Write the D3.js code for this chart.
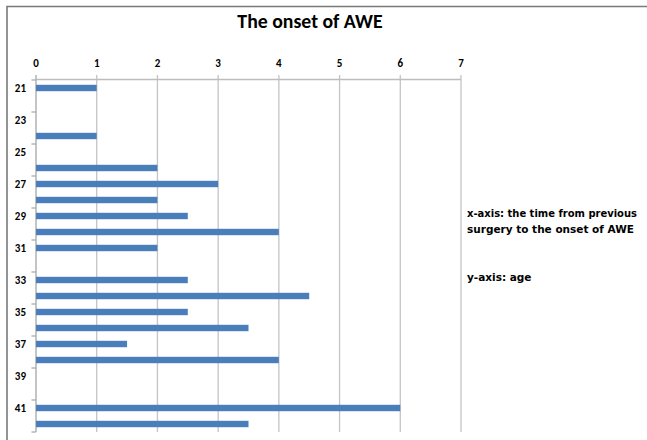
<!DOCTYPE html>
<html>
<head>
  <meta charset="UTF-8">
  <style>
    body { margin: 0; background: #fff; }
    svg { display: block; }
  </style>
</head>
<body>
<div id="chart_div"></div>

<script src="https://d3js.org/d3.v7.min.js"></script>
<script>

let width = 647, height = 440;

// ages on the y axis (top to bottom) and the time values
const ages = [21, 22, 23, 24, 25, 26, 27, 28, 29, 30, 31, 32, 33, 34, 35, 36, 37, 38, 39, 40, 41, 42];
const times = [1, null, null, 1, null, 2, 3, 2, 2.5, 4, 2, null, 2.5, 4.5, 2.5, 3.5, 1.5, 4, null, null, 6, 3.5];
const ageLabels = [21, 23, 25, 27, 29, 31, 33, 35, 37, 39, 41];
const xTicks = [0, 1, 2, 3, 4, 5, 6, 7];
const notes = ["x-axis: the time from previous", "surgery to the onset of AWE", "", "", "y-axis: age"];

let svg = d3.select("#chart_div")
  .append("svg")
  .attr("width", width)
  .attr("height", height);

// frame of the chart area
svg.append("path")
  .attr("d", "M7,440 V6.5 H647")
  .attr("fill", "none")
  .attr("stroke", "#7a7a7a")
  .attr("stroke-width", 1.6);

svg.append("text")
  .attr("x", 310)
  .attr("y", 28)
  .attr("text-anchor", "middle")
  .style("font-family", "Carlito, Lato, sans-serif")
  .style("font-weight", "bold")
  .style("font-size", "19.8px")
  .text("The onset of AWE");

var x = d3.scaleLinear().domain([0, 7]).range([36, 461]);
var y = d3.scaleBand().domain(ages).range([80, 432]).padding(0);

// vertical gridlines (with small outward tick above the axis)
svg.append("g")
  .selectAll("line")
  .data(xTicks)
  .enter()
  .append("line")
    .attr("x1", d => x(d))
    .attr("x2", d => x(d))
    .attr("y1", 75)
    .attr("y2", 432)
    .attr("stroke", d => d === 0 ? "#a6a6a6" : "#c4c4c4")
    .attr("stroke-width", 1.3);

// top axis line
svg.append("line")
  .attr("x1", x(0)).attr("x2", x(7))
  .attr("y1", 79.5).attr("y2", 79.5)
  .attr("stroke", "#bdbdbd")
  .attr("stroke-width", 1.5);

svg.append("g")
  .selectAll("text")
  .data(xTicks)
  .enter()
  .append("text")
    .attr("x", d => x(d))
    .attr("y", 67)
    .attr("text-anchor", "middle")
    .style("font-family", "Carlito, Lato, sans-serif")
    .style("font-weight", "bold")
    .style("font-size", "11px")
    .text(d => d);

// y tick marks every 2 categories on band boundaries
svg.append("g")
  .selectAll("line")
  .data(ages.filter((d, i) => i % 2 === 0).concat(["end"]))
  .enter()
  .append("line")
    .attr("x1", 31.5)
    .attr("x2", x(0))
    .attr("y1", d => d === "end" ? y.range()[1] : y(d))
    .attr("y2", d => d === "end" ? y.range()[1] : y(d))
    .attr("stroke", "#a6a6a6")
    .attr("stroke-width", 1.2);

svg.append("g")
  .selectAll("text")
  .data(ageLabels)
  .enter()
  .append("text")
    .attr("x", 26)
    .attr("y", d => y(d) + y.bandwidth() / 2)
    .attr("dy", "0.35em")
    .attr("text-anchor", "end")
    .style("font-family", "Carlito, Lato, sans-serif")
    .style("font-weight", "bold")
    .style("font-size", "11px")
    .text(d => d);

// bars
let barH = y.bandwidth() * 0.4;
svg.append("g")
  .selectAll("rect")
  .data(ages.map((a, i) => ({age: a, v: times[i]})).filter(d => d.v != null))
  .enter()
  .append("rect")
    .attr("x", x(0))
    .attr("y", d => y(d.age) + (y.bandwidth() - barH) / 2)
    .attr("width", d => x(d.v) - x(0))
    .attr("height", barH)
    .attr("fill", "#4a7ebb");

// side notes
let maxW = 170;
svg.append("g")
  .selectAll("text")
  .data(notes)
  .enter()
  .append("text")
    .attr("x", 467)
    .attr("y", (d, i) => 217 + i * 16)
    .style("font-family", "'DejaVu Sans', Arial, sans-serif")
    .style("font-weight", "bold")
    .style("font-size", "10.5px")
    .text(d => d)
    .each(function() {
      // squeeze a line that would run past the right edge
      if (this.getComputedTextLength() > maxW) {
        d3.select(this).attr("textLength", maxW).attr("lengthAdjust", "spacingAndGlyphs");
      }
    });

</script>

</body>
</html>
